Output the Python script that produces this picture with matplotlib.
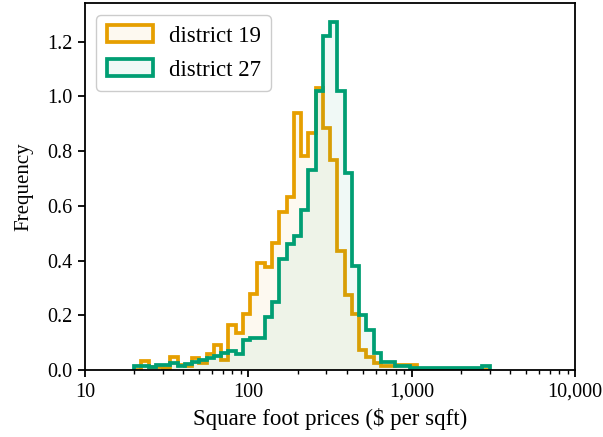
import numpy as np
import matplotlib
matplotlib.use("Agg")
import matplotlib.pyplot as plt
from matplotlib.ticker import FuncFormatter, MultipleLocator

plt.rcParams["font.family"] = ["Liberation Serif", "DejaVu Serif"]

# log-spaced bin edges ($ per sqft), 49 bins
bin_lo, bin_hi, n_bins = 20, 3000, 49

# density of log price per bin
district_19 = [0.0, 0.032, 0.010, 0.010, 0.008, 0.047, 0.020, 0.015, 0.045, 0.025,
               0.060, 0.090, 0.035, 0.163, 0.135, 0.206, 0.279, 0.391, 0.376, 0.464,
               0.578, 0.633, 0.938, 0.783, 0.868, 1.030, 0.883, 0.769, 0.435, 0.273,
               0.206, 0.073, 0.046, 0.026, 0.013, 0.013, 0.020, 0.020, 0.020, 0.003,
               0.0, 0.0, 0.0, 0.0, 0.0, 0.0, 0.0, 0.0, 0.0]
district_27 = [0.015, 0.015, 0.010, 0.019, 0.019, 0.025, 0.016, 0.022, 0.030, 0.038,
               0.043, 0.050, 0.064, 0.069, 0.059, 0.108, 0.118, 0.118, 0.193, 0.247,
               0.407, 0.460, 0.490, 0.585, 0.733, 1.020, 1.220, 1.273, 1.019, 0.720,
               0.382, 0.200, 0.147, 0.061, 0.029, 0.029, 0.013, 0.013, 0.006, 0.006,
               0.006, 0.006, 0.006, 0.006, 0.006, 0.006, 0.006, 0.008, 0.014]

series = [("district 19", district_19, "#E69F00"),
          ("district 27", district_27, "#009E73")]

edges = np.logspace(np.log10(bin_lo), np.log10(bin_hi), n_bins + 1)

fig = plt.figure(figsize=(6.03, 4.37), dpi=100)
ax = fig.add_axes([0.1408, 0.1533, 0.8131, 0.8387])

for label, vals, color in series:
    ax.stairs(vals, edges, fill=True, facecolor=matplotlib.colors.to_rgba(color, 0.06),
              edgecolor=color, linewidth=2.7, label=label)

ax.set_xscale("log")
ax.set_xlim(10, 10000)
ax.set_ylim(0, 1.34)
ax.xaxis.set_major_formatter(FuncFormatter(lambda v, _: f"{v:,.0f}"))
ax.yaxis.set_major_locator(MultipleLocator(0.2))
ax.yaxis.set_major_formatter(FuncFormatter(lambda v, _: f"{v:.1f}"))

for s in ax.spines.values():
    s.set_linewidth(1.3)
ax.tick_params(which="major", length=5, width=1.3, labelsize=14.5, pad=4)
ax.tick_params(which="minor", length=3, width=1.0)

ax.set_xlabel("Square foot prices ($ per sqft)", fontsize=16.5, labelpad=5)
ax.set_ylabel("Frequency", fontsize=15, labelpad=10)

leg = ax.legend(loc="upper left", fontsize=16.5, handlelength=2.0, handleheight=0.75,
                borderpad=0.45, labelspacing=0.55, handletextpad=0.7,
                fancybox=True, framealpha=1.0, edgecolor="#cccccc",
                bbox_to_anchor=(0.0, 1.0), borderaxespad=0.5)

fig.savefig("out.png", dpi=100)
